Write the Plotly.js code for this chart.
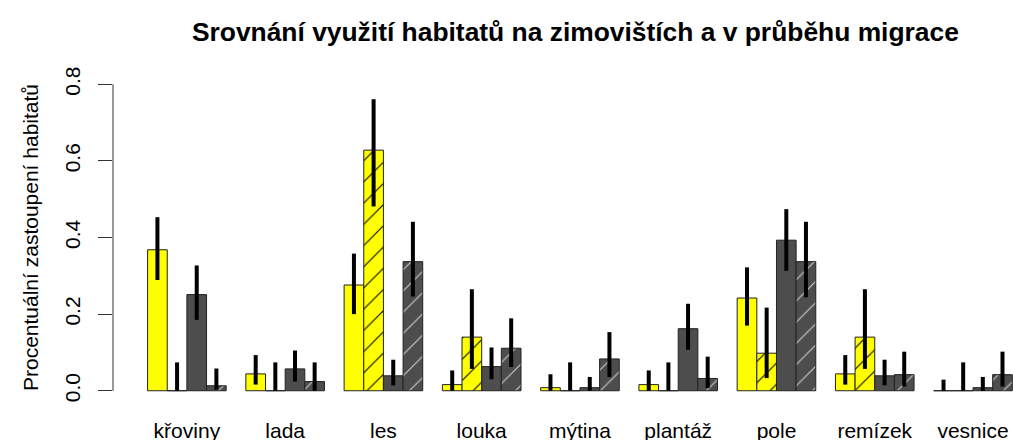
<!DOCTYPE html>
<html>
<head>
<meta charset="utf-8">
<script src="https://cdn.plot.ly/plotly-3.0.1.min.js"></script>
<style>html,body{margin:0;padding:0;background:#fff;}#chart{width:1013px;height:440px;}</style>
</head>
<body>
<div id="chart"></div>
<script>
// Categories (habitats)
const categories = ['křoviny','lada','les','louka','mýtina','plantáž','pole','remízek','vesnice'];

// Series 1 – yellow, solid
const s1Name = 'zimoviště';
const s1Mean  = [0.368, 0.044, 0.276, 0.016, 0.008, 0.016, 0.242, 0.044, 0.000];
const s1Upper = [0.453, 0.093, 0.358, 0.053, 0.043, 0.053, 0.322, 0.093, 0.029];
const s1Lower = [0.289, 0.016, 0.200, 0.000, 0.000, 0.000, 0.170, 0.016, 0.000];

// Series 2 – yellow, hatched
const s2Name = 'zimoviště (dostupnost)';
const s2Mean  = [0.000, 0.000, 0.628, 0.140, 0.000, 0.000, 0.098, 0.140, 0.000];
const s2Upper = [0.074, 0.074, 0.761, 0.265, 0.074, 0.074, 0.217, 0.265, 0.074];
const s2Lower = [0.000, 0.000, 0.481, 0.057, 0.000, 0.000, 0.033, 0.057, 0.000];

// Series 3 – dark grey, solid
const s3Name = 'migrace';
const s3Mean  = [0.251, 0.057, 0.039, 0.063, 0.008, 0.162, 0.393, 0.039, 0.008];
const s3Upper = [0.327, 0.105, 0.081, 0.113, 0.036, 0.227, 0.474, 0.081, 0.036];
const s3Lower = [0.185, 0.024, 0.014, 0.030, 0.000, 0.107, 0.313, 0.014, 0.000];

// Series 4 – dark grey, hatched
const s4Name = 'migrace (dostupnost)';
const s4Mean  = [0.013, 0.024, 0.337, 0.111, 0.083, 0.032, 0.337, 0.042, 0.042];
const s4Upper = [0.058, 0.074, 0.441, 0.189, 0.153, 0.089, 0.441, 0.102, 0.102];
const s4Lower = [0.003, 0.000, 0.246, 0.062, 0.036, 0.007, 0.244, 0.011, 0.011];

// Y tick labels
const yTickVals = [0, 0.2, 0.4, 0.6, 0.8];
const yTickText = ['0.0', '0.2', '0.4', '0.6', '0.8'];

const FONT = 'Liberation Sans, Arial, Helvetica, sans-serif';

function makeTrace(name, mean, upper, lower, color, pattern) {
  const t = {
    type: 'bar',
    name: name,
    x: categories,
    y: mean,
    marker: {
      color: color,
      line: {color: '#222', width: 1}
    },
    error_y: {
      type: 'data',
      symmetric: false,
      array: upper.map((u, i) => u - mean[i]),
      arrayminus: mean.map((m, i) => m - lower[i]),
      color: '#000',
      thickness: 4,
      width: 0
    },
    showlegend: false,
    hoverinfo: 'x+y'
  };
  if (pattern) t.marker.pattern = pattern;
  return t;
}

const traces = [
  makeTrace(s1Name, s1Mean, s1Upper, s1Lower, '#FFFF00', null),
  makeTrace(s2Name, s2Mean, s2Upper, s2Lower, '#FFFF00',
            {shape: '/', fgcolor: '#000', bgcolor: '#FFFF00', size: 15, solidity: 0.07}),
  makeTrace(s3Name, s3Mean, s3Upper, s3Lower, '#4D4D4D', null),
  makeTrace(s4Name, s4Mean, s4Upper, s4Lower, '#4D4D4D',
            {shape: '/', fgcolor: '#D0D0D0', bgcolor: '#4D4D4D', size: 15, solidity: 0.07})
];

const layout = {
  width: 1013,
  height: 440,
  paper_bgcolor: '#fff',
  plot_bgcolor: '#fff',
  margin: {l: 113, r: 0, t: 72, b: 36.7, pad: 0},
  barmode: 'group',
  bargap: 0.2,
  bargroupgap: 0,
  font: {family: FONT, size: 21, color: '#000'},
  title: {
    text: '<b>Srovnání využití habitatů na zimovištích a v průběhu migrace</b>',
    font: {family: FONT, size: 26.4, color: '#000'},
    xref: 'container', x: 0.568, xanchor: 'center',
    yref: 'container', y: 0.927, yanchor: 'middle'
  },
  xaxis: {
    type: 'category',
    range: [-0.752, 8.407],
    showgrid: false, zeroline: false, showline: false,
    ticks: '',
    tickfont: {family: FONT, size: 21, color: '#000'},
    ticklabelstandoff: 13
  },
  yaxis: {
    range: [-0.032, 0.832],
    showgrid: false, zeroline: false, showline: false,
    tickmode: 'array', tickvals: yTickVals, ticktext: yTickText,
    ticks: 'outside', ticklen: 14, tickwidth: 1, tickcolor: '#333',
    tickangle: -90,
    tickfont: {family: FONT, size: 21, color: '#000'},
    ticklabelstandoff: 10,
    title: {
      text: 'Procentuální zastoupení habitatů',
      font: {family: FONT, size: 21, color: '#000'},
      standoff: 16
    }
  },
  shapes: [{
    type: 'line', xref: 'paper', yref: 'y',
    x0: 0, x1: 0, y0: 0, y1: 0.8,
    line: {color: '#333', width: 1}
  }]
};

Plotly.newPlot('chart', traces, layout, {displayModeBar: false, staticPlot: true});
</script>
</body>
</html>
